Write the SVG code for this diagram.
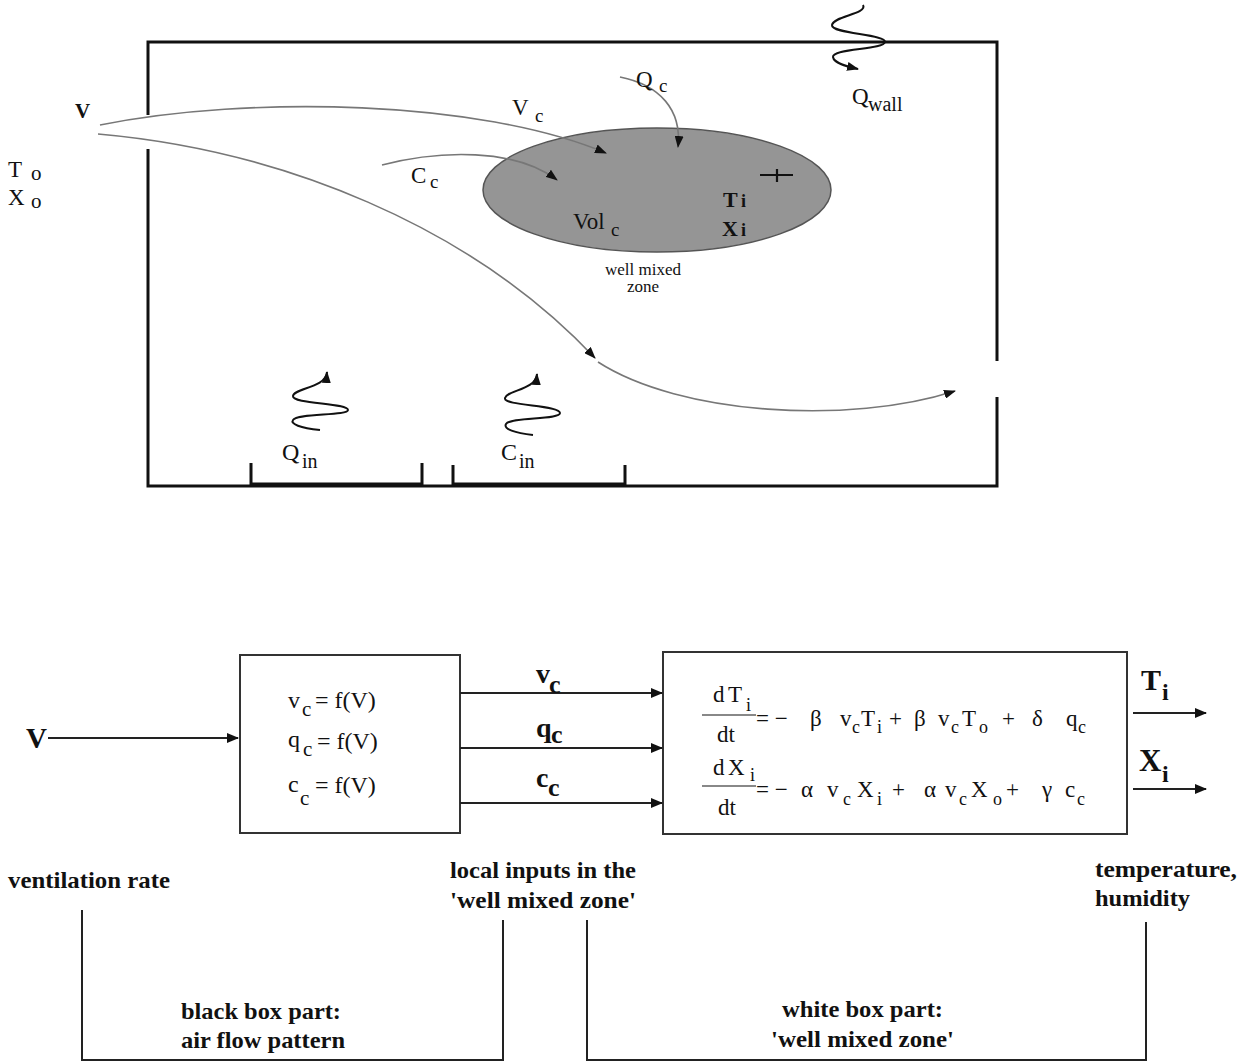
<svg xmlns="http://www.w3.org/2000/svg" width="1242" height="1062" viewBox="0 0 1242 1062">
<style>
text { font-family: "Liberation Serif", "Times New Roman", serif; fill: #111; }
.b { font-weight: bold; }
.wall { fill: none; stroke: #111; stroke-width: 3; }
.flow { fill: none; stroke: #777; stroke-width: 1.6; }
.wave { fill: none; stroke: #111; stroke-width: 2; }
.ln { fill: none; stroke: #222; stroke-width: 2; }
.box { fill: #fff; stroke: #333; stroke-width: 2; }
.bar { stroke: #888; stroke-width: 2; }
</style>
<defs>
<marker id="ah" markerWidth="12" markerHeight="9" refX="11" refY="4.5" orient="auto" markerUnits="userSpaceOnUse"><path d="M0,0 L12,4.5 L0,9 z" fill="#111"/></marker>
<marker id="ahb" markerWidth="12" markerHeight="10" refX="11" refY="5" orient="auto" markerUnits="userSpaceOnUse"><path d="M0,0 L12,5 L0,10 z" fill="#111"/></marker>
</defs>

<!-- top: room -->
<g id="room">
<path class="wall" d="M148,115 V42 H997 V361 M997,397 V486 H148 V149"/>
<path class="wall" d="M251,463 V484 H422 V463" stroke-width="2.5"/>
<path class="wall" d="M453,465 V484 H625 V465" stroke-width="2.5"/>
</g>

<g id="zone">
<ellipse cx="657" cy="190" rx="174" ry="62" fill="#959595" stroke="#555" stroke-width="1.5"/>
<text x="573" y="229" font-size="23">Vol</text>
<text x="611" y="236" font-size="19">c</text>
<text class="b" x="723" y="207" font-size="22">T</text>
<text class="b" x="741" y="207" font-size="18">i</text>
<text class="b" x="722" y="236" font-size="22">X</text>
<text class="b" x="741" y="236" font-size="18">i</text>
<path d="M760,175 H793 M777,169 V182" stroke="#111" stroke-width="2.2"/>
<text x="643" y="275" font-size="17" text-anchor="middle">well mixed</text>
<text x="643" y="292" font-size="17" text-anchor="middle">zone</text>
</g>

<g id="outside">
<text class="b" x="75" y="118" font-size="21">V</text>
<text x="8" y="177" font-size="23">T</text>
<text x="31" y="180" font-size="21">o</text>
<text x="8" y="205" font-size="23">X</text>
<text x="31" y="208" font-size="21">o</text>
</g>

<g id="connectors">
<path class="flow" d="M100,125 C250,95 480,100 606,153" marker-end="url(#ah)"/>
<path class="flow" d="M382,165 C440,150 515,148 557,180" marker-end="url(#ah)"/>
<path class="flow" d="M620,77 C660,85 682,110 678,147" marker-end="url(#ah)"/>
<path class="flow" d="M98,134 C280,150 470,225 595,358" marker-end="url(#ah)"/>
<path class="flow" d="M598,362 C680,415 850,425 955,391" marker-end="url(#ah)"/>
<path class="wave" d="M863,5 C868,14 833,16 832,25 C831,34 886,34 885,42 C884,50 832,48 833,57 C834,64 850,67 858,69" marker-end="url(#ah)"/>
<path class="wave" d="M320,430 C300,428 290,424 293,420 C297,413 348,416 348,410 C348,403 292,404 293,396 C294,388 326,388 327,372" marker-end="url(#ah)"/>
<path class="wave" d="M533,435 C515,433 503,429 506,424 C510,417 560,420 560,413 C560,405 503,406 505,398 C507,390 536,390 537,374" marker-end="url(#ah)"/>
</g>

<g id="labels-top">
<text x="512" y="115" font-size="23">V</text>
<text x="535" y="122" font-size="19">c</text>
<text x="636" y="87" font-size="23">Q</text>
<text x="659" y="92" font-size="19">c</text>
<text x="411" y="183" font-size="23">C</text>
<text x="430" y="188" font-size="19">c</text>
<text x="852" y="104" font-size="23">Q</text>
<text x="868" y="111" font-size="20">wall</text>
<text x="282" y="460" font-size="24">Q</text>
<text x="302" y="468" font-size="20">in</text>
<text x="501" y="460" font-size="24">C</text>
<text x="519" y="468" font-size="20">in</text>
</g>

<!-- bottom block diagram -->
<g id="black-box">
<rect class="box" x="240" y="655" width="220" height="178"/>
<text x="288" y="708" font-size="24">v</text>
<text x="302" y="716" font-size="21">c</text>
<text x="315" y="708" font-size="24">= f(V)</text>
<text x="288" y="747" font-size="24">q</text>
<text x="303" y="756" font-size="21">c</text>
<text x="317" y="749" font-size="24">= f(V)</text>
<text x="288" y="792" font-size="24">c</text>
<text x="300" y="805" font-size="21">c</text>
<text x="315" y="793" font-size="24">= f(V)</text>
</g>

<g id="white-box">
<rect class="box" x="663" y="652" width="464" height="182"/>
<text x="713" y="702" font-size="23">d</text>
<text x="728" y="702" font-size="23">T</text>
<text x="746" y="711" font-size="18">i</text>
<line class="bar" x1="702" y1="715" x2="756" y2="715"/>
<text x="717" y="742" font-size="23">dt</text>
<text x="756" y="726" font-size="23">= −</text>
<text font-size="23" y="726"><tspan x="810">β</tspan><tspan x="840">v</tspan><tspan x="861">T</tspan><tspan x="889">+</tspan><tspan x="914">β</tspan><tspan x="938">v</tspan><tspan x="962">T</tspan><tspan x="1002">+</tspan><tspan x="1032">δ</tspan><tspan x="1066">q</tspan></text>
<text font-size="18" y="733"><tspan x="852">c</tspan><tspan x="877">i</tspan><tspan x="951">c</tspan><tspan x="979">o</tspan><tspan x="1078">c</tspan></text>

<text x="713" y="775" font-size="23">d</text>
<text x="728" y="775" font-size="23">X</text>
<text x="750" y="781" font-size="18">i</text>
<line class="bar" x1="702" y1="786" x2="756" y2="786"/>
<text x="718" y="815" font-size="23">dt</text>
<text x="756" y="797" font-size="23">= −</text>
<text font-size="23" y="797"><tspan x="801">α</tspan><tspan x="827">v</tspan><tspan x="857">X</tspan><tspan x="892">+</tspan><tspan x="924">α</tspan><tspan x="945">v</tspan><tspan x="971">X</tspan><tspan x="1006">+</tspan><tspan x="1042">γ</tspan><tspan x="1065">c</tspan></text>
<text font-size="18" y="805"><tspan x="843">c</tspan><tspan x="877">i</tspan><tspan x="959">c</tspan><tspan x="993">o</tspan><tspan x="1077">c</tspan></text>
</g>

<g id="block-connectors">
<line class="ln" x1="48" y1="738" x2="238" y2="738" marker-end="url(#ahb)"/>
<line class="ln" x1="460" y1="693" x2="662" y2="693" marker-end="url(#ahb)"/>
<line class="ln" x1="460" y1="748" x2="662" y2="748" marker-end="url(#ahb)"/>
<line class="ln" x1="460" y1="803" x2="662" y2="803" marker-end="url(#ahb)"/>
<line class="ln" x1="1133" y1="713" x2="1206" y2="713" marker-end="url(#ahb)"/>
<line class="ln" x1="1133" y1="789" x2="1206" y2="789" marker-end="url(#ahb)"/>
<path class="ln" d="M82,910 V1060 H503 V920"/>
<path class="ln" d="M587,920 V1060 H1146 V922"/>
</g>

<g id="block-labels">
<text class="b" x="26" y="748" font-size="29">V</text>
<text class="b" x="536" y="683" font-size="28">v</text>
<text class="b" x="549" y="693" font-size="26">c</text>
<text class="b" x="536" y="737" font-size="28">q</text>
<text class="b" x="551" y="743" font-size="26">c</text>
<text class="b" x="536" y="787" font-size="28">c</text>
<text class="b" x="548" y="796" font-size="26">c</text>
<text class="b" x="1141" y="690" font-size="30">T</text>
<text class="b" x="1162" y="700" font-size="24">i</text>
<text class="b" x="1139" y="771" font-size="31">X</text>
<text class="b" x="1162" y="782" font-size="24">i</text>
</g>

<g id="captions">
<text class="b" x="8" y="888" font-size="24" textLength="162" lengthAdjust="spacingAndGlyphs">ventilation rate</text>
<text class="b" x="450" y="878" font-size="24" textLength="186" lengthAdjust="spacingAndGlyphs">local inputs in the</text>
<text class="b" x="450" y="908" font-size="24" textLength="186" lengthAdjust="spacingAndGlyphs">'well mixed zone'</text>
<text class="b" x="181" y="1019" font-size="24" textLength="160" lengthAdjust="spacingAndGlyphs">black box part:</text>
<text class="b" x="181" y="1048" font-size="24" textLength="164" lengthAdjust="spacingAndGlyphs">air flow pattern</text>
<text class="b" x="782" y="1017" font-size="24" textLength="161" lengthAdjust="spacingAndGlyphs">white box part:</text>
<text class="b" x="771" y="1047" font-size="24" textLength="183" lengthAdjust="spacingAndGlyphs">'well mixed zone'</text>
<text class="b" x="1095" y="877" font-size="24" textLength="142" lengthAdjust="spacingAndGlyphs">temperature,</text>
<text class="b" x="1095" y="906" font-size="24" textLength="95" lengthAdjust="spacingAndGlyphs">humidity</text>
</g>
</svg>
